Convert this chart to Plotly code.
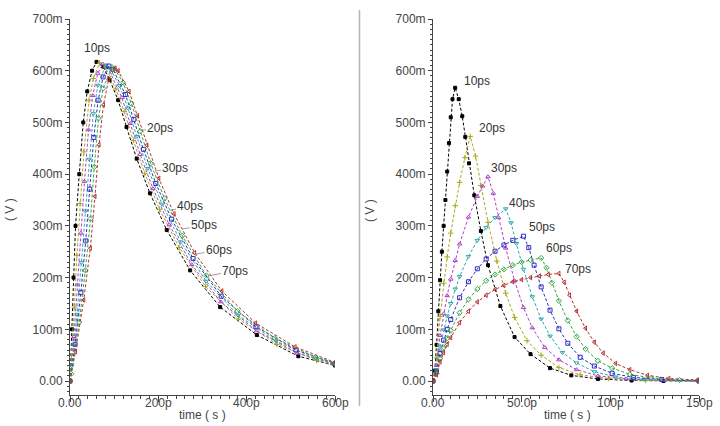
import plotly.graph_objects as go

# ---------------- data (time in ps, voltage in mV) ----------------
labels = ["10ps", "20ps", "30ps", "40ps", "50ps", "60ps", "70ps"]
colors = ["#000000", "#a8a818", "#b040c8", "#30a8b0", "#3030c0", "#30a840", "#b83030"]
symbols = ["square", "cross-thin-open", "triangle-up-open", "triangle-down-open",
           "square-open", "diamond-open", "triangle-left-open"]

# left panel (0 .. 600 ps)
L10_t = [0, 4.5, 8, 12.5, 21, 30, 39, 50, 60, 75, 90, 109, 128, 151, 181, 219, 272, 340, 423, 517, 600]
L10_v = [0, 100, 200, 300, 400, 500, 560, 600, 617, 608, 582, 543, 491, 430, 363, 292, 214, 143, 89, 48, 30]
L20_t = [0, 3.2, 9.8, 15.6, 22.7, 31.5, 43.2, 52.9, 67, 80, 103.7, 122.7, 143.4, 169.4, 202.8, 247.3, 306.7, 381.2, 468.9, 558.2, 600]
L20_v = [0, 43, 143, 243, 343, 443, 543, 585, 615, 607, 565, 521, 465, 401, 332, 258, 183, 120, 71, 40, 31]
L30_t = [0, 8.9, 16.9, 24.6, 32.8, 42.0, 51.4, 62.9, 74, 86, 117.3, 136.3, 158.8, 187.8, 224.7, 275.6, 341.5, 422.4, 514.8, 600]
L30_v = [0, 86, 186, 286, 386, 486, 552, 595, 613, 606, 548, 498, 438, 372, 302, 225, 153, 97, 54, 32]
L40_t = [0, 3.8, 16.0, 25.7, 34.6, 43.3, 52.8, 63.1, 81, 91, 112, 131, 151.2, 176.2, 208.5, 250.9, 308.2, 380.6, 466.8, 557.6, 600]
L40_v = [0, 29, 129, 229, 329, 429, 517, 572, 611, 604, 571, 528, 473, 411, 342, 269, 193, 127, 77, 43, 33]
L50_t = [0, 11.5, 24.6, 35.7, 44.6, 53.9, 63.6, 75.0, 88, 97, 125.5, 144.5, 166.3, 194.3, 230, 278.6, 342.3, 420.9, 511.7, 600]
L50_v = [0, 71, 171, 271, 371, 471, 543, 588, 609, 603, 554, 506, 448, 382, 313, 237, 164, 105, 60, 34]
L60_t = [0, 2.7, 21.0, 34.7, 46.5, 54.9, 64.6, 75.1, 95, 103, 120.2, 139.2, 158.7, 182.7, 213.8, 253.9, 309, 379.1, 463.7, 556.1, 600]
L60_v = [0, 14, 114, 214, 314, 414, 508, 566, 607, 601, 577, 536, 483, 421, 353, 281, 204, 135, 83, 46, 35]
L70_t = [0, 12.5, 31.1, 46, 56.6, 65.7, 75.7, 87.5, 102, 109, 133.8, 152.8, 174.1, 201.1, 235.7, 282.2, 343.8, 420.3, 509.6, 600]
L70_v = [0, 57, 157, 257, 357, 457, 534, 583, 605, 600, 560, 513, 456, 392, 323, 248, 174, 112, 66, 36]

# right panel (0 .. 150 ps)
R10_t = [0, 1, 2, 3, 4, 5, 6, 7, 8, 9, 10, 11, 12.5, 14.5, 16.5, 18.2, 20.3, 23.3, 27, 31, 38, 46, 55, 66, 78, 93, 112, 130, 150]
R10_v = [0, 20, 70, 135, 195, 250, 300, 350, 405, 460, 510, 545, 567, 545, 512, 472, 421, 359, 290, 224, 145, 85, 52, 25, 11, 4, 1, 0, 0]
R20_t = [0, 2, 4, 6, 8, 10, 12.5, 15, 18, 21, 24, 27, 31, 36, 41, 46, 53, 61, 71, 83, 99, 120, 150]
R20_v = [0, 45, 125, 189, 240, 286, 339, 384, 432, 473, 435, 378, 307, 232, 170, 123, 78, 50, 26, 12, 5, 1, 0]
R30_t = [0, 2, 4, 6, 8, 10, 12.5, 15, 20, 25, 28, 31, 34, 37, 41, 46, 51, 56, 63, 71, 81, 93, 109, 130, 150]
R30_v = [0, 30, 88, 130, 165, 197, 233, 265, 317, 357, 377, 395, 363, 316, 257, 194, 142, 103, 65, 41, 22, 10, 4, 1, 0]
R40_t = [0, 2, 4, 6, 8, 10, 12.5, 15, 20, 25, 30, 35, 41, 44, 47, 51, 56, 61, 66, 73, 81, 91, 103, 119, 150]
R40_v = [0, 22, 66, 99, 126, 150, 178, 202, 241, 272, 297, 316, 333, 306, 266, 216, 163, 120, 87, 55, 35, 18, 8, 3, 0]
R50_t = [0, 2, 4, 6, 8, 10, 15, 20, 25, 30, 35, 40, 45, 51, 54, 57, 61, 66, 71, 76, 83, 91, 101, 113, 129, 150]
R50_v = [0, 18, 53, 79, 100, 119, 161, 192, 217, 236, 251, 263, 272, 280, 258, 224, 182, 137, 101, 73, 46, 29, 15, 7, 3, 0]
R60_t = [0, 2, 4, 6, 8, 10, 15, 20, 25, 30, 35, 40, 45, 50, 55, 61, 64, 67, 71, 76, 81, 86, 93, 101, 111, 123, 139, 150]
R60_v = [0, 15, 43, 65, 83, 98, 132, 158, 178, 194, 206, 216, 224, 230, 234, 238, 219, 190, 155, 117, 86, 62, 39, 25, 13, 6, 2, 1]
R70_t = [0, 2, 4, 6, 8, 10, 15, 20, 25, 30, 35, 40, 45, 50, 55, 60, 65, 71, 74, 77, 81, 86, 91, 96, 103, 111, 121, 133, 149]
R70_v = [0, 12, 37, 55, 71, 84, 113, 135, 153, 166, 177, 185, 192, 196, 200, 203, 206, 208, 191, 166, 135, 102, 75, 54, 34, 22, 11, 5, 2]

left_series = [(L10_t, L10_v), (L20_t, L20_v), (L30_t, L30_v), (L40_t, L40_v),
               (L50_t, L50_v), (L60_t, L60_v), (L70_t, L70_v)]
right_series = [(R10_t, R10_v), (R20_t, R20_v), (R30_t, R30_v), (R40_t, R40_v),
                (R50_t, R50_v), (R60_t, R60_v), (R70_t, R70_v)]

y_tickvals = [0, 100, 200, 300, 400, 500, 600, 700]
y_ticktext = ["0.00", "100m", "200m", "300m", "400m", "500m", "600m", "700m"]
xl_tickvals = [0, 200, 400, 600]
xl_ticktext = ["0.00", "200p", "400p", "600p"]
xr_tickvals = [0, 50, 100, 150]
xr_ticktext = ["0.00", "50.0p", "100p", "150p"]

# label anchor positions (data coords)
left_label_pts = [(61, 644), (160.7, 485), (192.4, 406), (226.4, 330), (253.6, 294), (283, 245), (312.4, 203)]
left_label_off = [(0, 0), (19.5, -2), (20.5, -3), (20.5, -4.5), (22, -3.5), (24, -4.5), (27.5, -5.5)]
right_label_pts = [(16.4, 580), (24.8, 489), (31.6, 412), (41.7, 344), (53, 297.5), (62.6, 257), (73.3, 216)]

W, H = 720, 426
AX_COL = "#444444"
TXT_COL = "#444444"
FONT = "Liberation Sans"

fig = go.Figure()
for series, xa, ya in ((left_series, "x", "y"), (right_series, "x2", "y2")):
    for i, (t, v) in enumerate(series):
        fig.add_trace(go.Scatter(
            x=t, y=v, xaxis=xa, yaxis=ya, mode="lines+markers",
            line=dict(color=colors[i], width=1, dash="3px,2px"),
            marker=dict(symbol=symbols[i], size=3 if i == 0 else 4, color=colors[i],
                        line=dict(color=colors[i], width=1)),
            showlegend=False, hoverinfo="skip"))

ydom = [1 - 395 / H, 1 - 19 / H]


def xaxis_cfg(dom, rng, tv, minor_dt, anchor):
    return dict(domain=dom, range=rng, anchor=anchor, automargin=False,
                showline=True, linecolor=AX_COL, linewidth=1,
                ticks="outside", ticklen=6, tickcolor=AX_COL, tickwidth=1,
                tickmode="array", tickvals=tv, showticklabels=False,
                minor=dict(ticks="outside", ticklen=3, tickcolor=AX_COL, tickmode="linear",
                           dtick=minor_dt, tick0=0, showgrid=False),
                showgrid=False, zeroline=False)


def yaxis_cfg(anchor):
    return dict(domain=ydom, range=[-27, 700], anchor=anchor, automargin=False,
                showline=True, linecolor=AX_COL, linewidth=1,
                ticks="outside", ticklen=4, tickcolor=AX_COL, tickwidth=1,
                tickmode="linear", tick0=0, dtick=100,
                labelalias={str(a): b for a, b in zip(y_tickvals, y_ticktext)},
                minor=dict(ticks="outside", ticklen=2, tickcolor=AX_COL, dtick=10, tick0=0, showgrid=False),
                showgrid=False, zeroline=False,
                tickfont=dict(family=FONT, size=12, color=TXT_COL))


annotations = []
# x tick labels (placed just under the axis, as in the reference)
for xref, tv, tt in (("x", xl_tickvals, xl_ticktext), ("x2", xr_tickvals, xr_ticktext)):
    for v, s in zip(tv, tt):
        annotations.append(dict(x=v, y=1 - 403 / H, xref=xref, yref="paper", text=s, showarrow=False,
                                xanchor="center", yanchor="middle",
                                font=dict(family=FONT, size=12, color=TXT_COL)))

for i, ((x, y), (ax, ay)) in enumerate(zip(left_label_pts, left_label_off)):
    if i == 0:
        annotations.append(dict(x=x, y=y, xref="x", yref="y", text=labels[i], showarrow=False,
                                xanchor="center", yanchor="middle",
                                font=dict(family=FONT, size=12, color="#333333")))
    else:
        annotations.append(dict(x=x, y=y, xref="x", yref="y", text=labels[i], showarrow=True,
                                arrowhead=0, arrowwidth=0.8, arrowcolor="#888888", ax=ax, ay=ay,
                                standoff=0, startstandoff=0,
                                font=dict(family=FONT, size=12, color="#333333")))
for i, (x, y) in enumerate(right_label_pts):
    annotations.append(dict(x=x, y=y, xref="x2", yref="y2", text=labels[i], showarrow=False,
                            xanchor="left", yanchor="middle",
                            font=dict(family=FONT, size=12, color="#333333")))

# axis titles
for px in (10, 370):
    annotations.append(dict(x=px / W, y=1 - 210 / H, xref="paper", yref="paper", text="( V )",
                            textangle=-90, showarrow=False, xanchor="center", yanchor="middle",
                            font=dict(family=FONT, size=12, color=TXT_COL)))
for px in (202, 567):
    annotations.append(dict(x=px / W, y=1 - 415 / H, xref="paper", yref="paper", text="time ( s )",
                            showarrow=False, xanchor="center", yanchor="middle",
                            font=dict(family=FONT, size=12, color=TXT_COL)))

fig.update_layout(
    template="none",
    width=W, height=H, margin=dict(l=0, r=0, t=0, b=0, pad=0),
    paper_bgcolor="white", plot_bgcolor="white",
    xaxis=xaxis_cfg([70 / W, 335 / W], [0, 600], xl_tickvals, 20, "y"),
    yaxis=yaxis_cfg("x"),
    xaxis2=xaxis_cfg([433 / W, 699 / W], [0, 150], xr_tickvals, 5, "y2"),
    yaxis2=yaxis_cfg("x2"),
    annotations=annotations, showlegend=False, hovermode=False,
    shapes=[dict(type="line", xref="paper", yref="paper", x0=359.5 / W, x1=359.5 / W,
                 y0=1 - 10 / H, y1=1 - 406 / H, line=dict(color="#b4b4b4", width=1.5))],
)

fig.write_html("out.html")
